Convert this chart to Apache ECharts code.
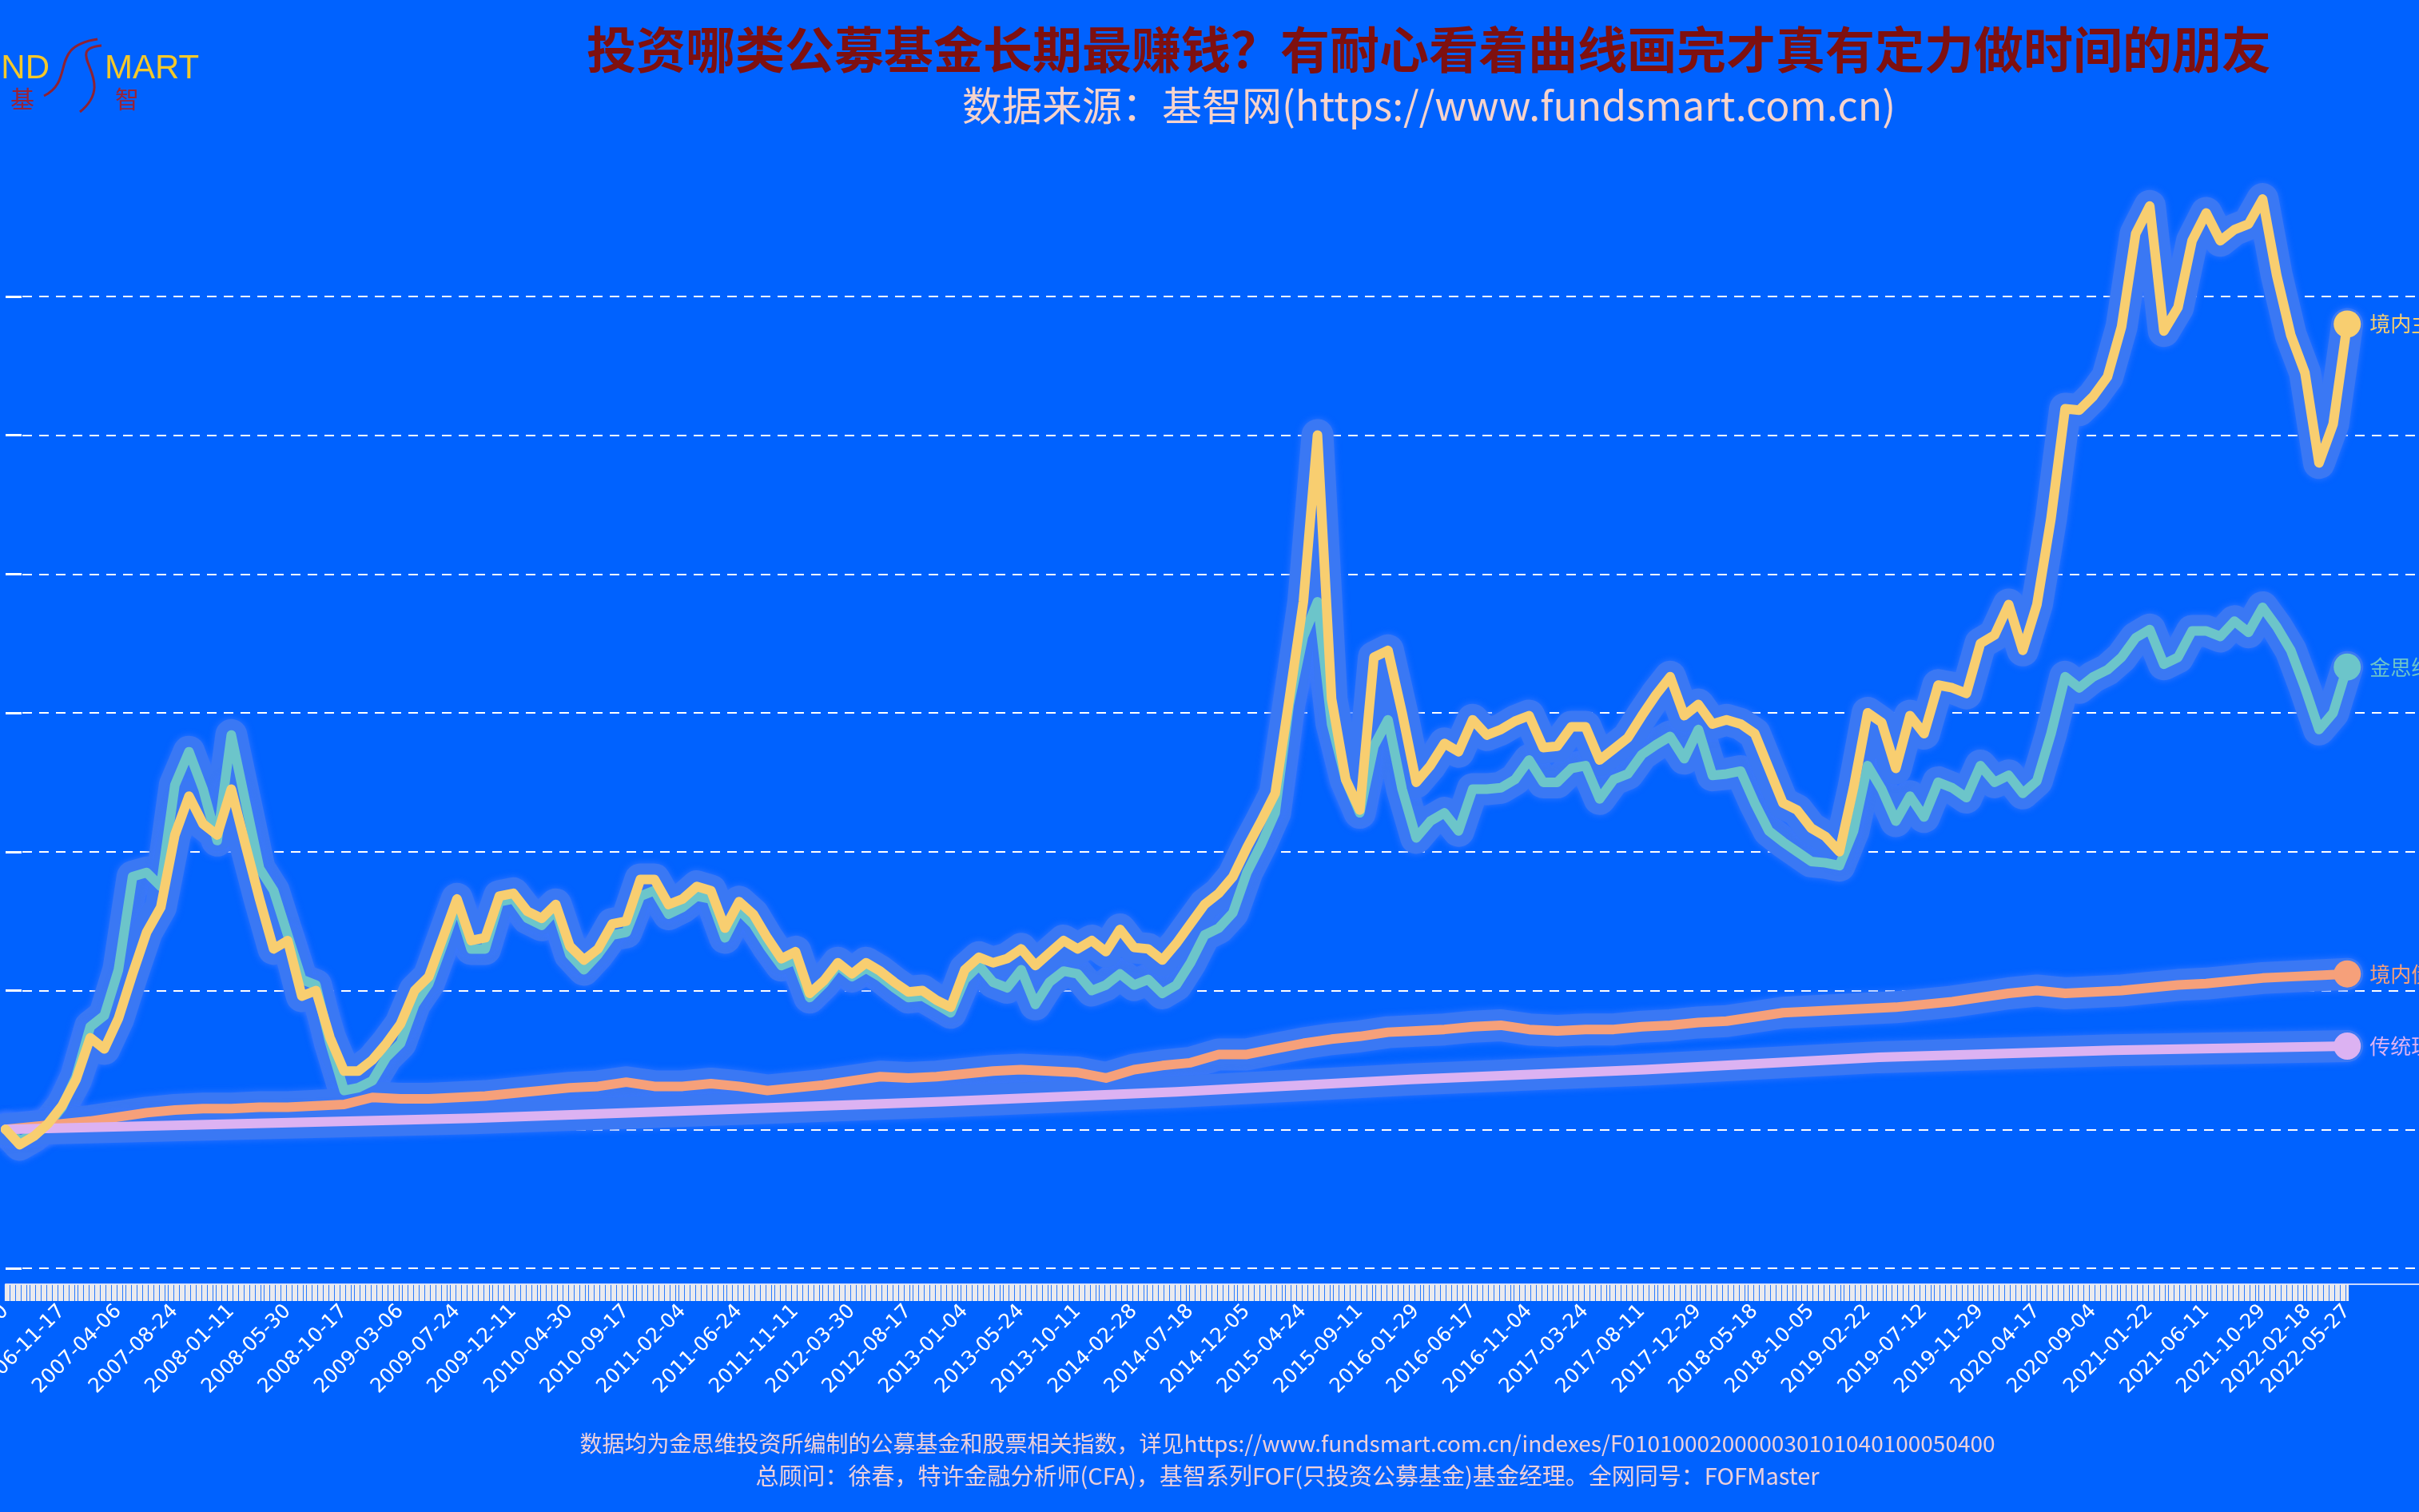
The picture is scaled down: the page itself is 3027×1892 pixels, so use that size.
<!DOCTYPE html>
<html>
<head>
<meta charset="utf-8">
<script src="https://cdn.jsdelivr.net/npm/echarts@6/dist/echarts.min.js"></script>
<style>
  html, body { margin: 0; padding: 0; background: #0062ff; }
  #chart { width: 3027px; height: 1892px; }
</style>
</head>
<body>
<div id="chart"></div>
<script>
// ---------- DATA ----------
const startDate = '2006-06-30';   // first weekly observation (Friday)
const weekCount = 831;            // weekly observations up to 2022-05-27

const xLabels = ['2006-06-30','2006-11-17','2007-04-06','2007-08-24','2008-01-11','2008-05-30','2008-10-17',
  '2009-03-06','2009-07-24','2009-12-11','2010-04-30','2010-09-17','2011-02-04','2011-06-24','2011-11-11',
  '2012-03-30','2012-08-17','2013-01-04','2013-05-24','2013-10-11','2014-02-28','2014-07-18','2014-12-05',
  '2015-04-24','2015-09-11','2016-01-29','2016-06-17','2016-11-04','2017-03-24','2017-08-11','2017-12-29',
  '2018-05-18','2018-10-05','2019-02-22','2019-07-12','2019-11-29','2020-04-17','2020-09-04','2021-01-22',
  '2021-06-11','2021-10-29','2022-02-18','2022-05-27'];

const yTicks = [0, 1, 2, 3, 4, 5, 6, 7];

const seriesNames = ['境内主动股票基金指数', '金思维全A股票指数', '境内债券基金指数', '传统理财收益指数'];

// yellow: one value every 5 weeks
const stepYellow = 5;
const yellowVals = [
1.00,0.89,0.95,1.04,1.17,1.36,1.66,1.58,1.80,2.12,
2.42,2.60,3.12,3.40,3.20,3.12,3.45,3.05,2.66,2.30,
2.36,1.96,2.00,1.66,1.42,1.42,1.50,1.62,1.76,2.00,
2.10,2.38,2.66,2.36,2.38,2.68,2.70,2.57,2.52,2.62,
2.32,2.22,2.30,2.48,2.50,2.80,2.80,2.62,2.66,2.75,
2.72,2.45,2.64,2.55,2.38,2.23,2.28,1.98,2.07,2.20,
2.12,2.20,2.14,2.06,1.99,2.00,1.93,1.88,2.15,2.24,
2.20,2.23,2.30,2.18,2.27,2.36,2.30,2.36,2.28,2.44,
2.31,2.30,2.22,2.34,2.48,2.62,2.70,2.82,3.03,3.22,
3.42,4.10,4.80,6.00,4.10,3.52,3.30,4.40,4.45,4.00,
3.50,3.62,3.78,3.72,3.95,3.84,3.88,3.94,3.98,3.75,
3.76,3.90,3.90,3.66,3.74,3.82,3.98,4.13,4.26,3.98,
4.06,3.92,3.95,3.92,3.85,3.60,3.35,3.30,3.17,3.11,
3.00,3.46,4.00,3.93,3.60,3.98,3.85,4.20,4.18,4.14,
4.50,4.56,4.78,4.45,4.78,5.40,6.19,6.18,6.28,6.42,
6.78,7.45,7.65,6.75,6.92,7.40,7.60,7.40,7.48,7.52,
7.70,7.15,6.72,6.45,5.80,6.08,6.80];

// teal: one value every 5 weeks
const stepTeal = 5;
const tealVals = [
1.00,0.92,0.96,1.03,1.16,1.38,1.74,1.82,2.15,2.82,
2.85,2.75,3.48,3.72,3.45,3.08,3.84,3.36,2.88,2.72,
2.40,2.08,2.04,1.62,1.28,1.30,1.35,1.52,1.62,1.90,
2.05,2.33,2.62,2.30,2.30,2.64,2.66,2.52,2.47,2.58,
2.26,2.15,2.26,2.40,2.42,2.68,2.72,2.55,2.60,2.68,
2.66,2.38,2.58,2.48,2.32,2.18,2.22,1.95,2.05,2.18,
2.10,2.16,2.10,2.02,1.95,1.96,1.90,1.84,2.08,2.18,
2.06,2.02,2.15,1.90,2.06,2.14,2.12,2.00,2.04,2.12,
2.04,2.08,1.98,2.04,2.20,2.40,2.45,2.56,2.85,3.05,
3.28,4.06,4.55,4.80,3.92,3.52,3.28,3.76,3.95,3.45,
3.10,3.22,3.28,3.15,3.45,3.45,3.46,3.52,3.66,3.50,
3.50,3.60,3.62,3.38,3.52,3.56,3.70,3.77,3.83,3.67,
3.88,3.55,3.56,3.58,3.35,3.15,3.07,3.00,2.93,2.92,
2.90,3.15,3.62,3.45,3.22,3.40,3.25,3.50,3.46,3.39,
3.62,3.50,3.55,3.42,3.51,3.85,4.26,4.18,4.26,4.31,
4.40,4.54,4.60,4.35,4.40,4.59,4.59,4.55,4.66,4.58,
4.76,4.62,4.45,4.18,3.88,4.00,4.33];

// orange: one value every 10 weeks
const stepOrange = 10;
const orangeVals = [
1.00,1.02,1.04,1.06,1.09,1.12,1.14,1.15,1.15,1.16,
1.16,1.17,1.18,1.23,1.22,1.22,1.23,1.24,1.26,1.28,
1.30,1.31,1.34,1.31,1.31,1.33,1.31,1.28,1.30,1.32,
1.35,1.38,1.37,1.38,1.40,1.42,1.43,1.42,1.41,1.37,
1.43,1.46,1.48,1.54,1.54,1.58,1.62,1.65,1.67,1.70,
1.71,1.72,1.74,1.75,1.72,1.71,1.72,1.72,1.74,1.75,
1.77,1.78,1.81,1.84,1.85,1.86,1.87,1.88,1.90,1.92,
1.95,1.98,2.00,1.98,1.99,2.00,2.02,2.04,2.05,2.07,
2.09,2.10,2.11,2.12];

// lilac: one value every 83 weeks
const stepLilac = 83;
const lilacVals = [1.00,1.04,1.08,1.14,1.20,1.27,1.36,1.43,1.52,1.57,1.60];

// ---------- BUILD ----------
const weekDates = [];
(function () {
  const p = startDate.split('-').map(Number);
  let t = Date.UTC(p[0], p[1] - 1, p[2]);
  for (let i = 0; i < weekCount; i++) {
    const d = new Date(t);
    weekDates.push(d.getUTCFullYear() + '-' + String(d.getUTCMonth() + 1).padStart(2, '0') + '-' + String(d.getUTCDate()).padStart(2, '0'));
    t += 7 * 86400000;
  }
})();
const labelSet = new Set(xLabels);
const lastIdx = weekCount - 1;

const colors = ['#f8ce70', '#6cc5ca', '#f6a07a', '#dcb2f2'];
const glowColor = '#3a78f4';

function pts(vals, step) {
  return vals.map((v, k) => [k * step, v]);
}

function makeSeries(name, vals, step, color, z) {
  const raw = pts(vals, step);
  const glow = {
    type: 'line', data: raw, symbol: 'none', silent: true, z: 1,
    lineStyle: { color: glowColor, width: 40, cap: 'round', join: 'round', shadowBlur: 8, shadowColor: 'rgba(60,120,255,0.9)' },
    emphasis: { disabled: true }, animation: false
  };
  const main = {
    name: name, type: 'line', z: z, silent: true, animation: false,
    showSymbol: true, symbol: 'none',
    data: raw.map((p, i) => i === raw.length - 1 ? { value: p, symbol: 'circle', symbolSize: 34 } : p),
    lineStyle: { color: color, width: 12, cap: 'round', join: 'round' },
    itemStyle: { color: color },
    endLabel: { show: true, formatter: '{a}', color: color, fontSize: 26, fontFamily: 'Noto Sans CJK SC', distance: 28 },
    emphasis: { disabled: true }
  };
  return [glow, main];
}

const series = [].concat(
  makeSeries(seriesNames[1], tealVals, stepTeal, colors[1], 3),
  makeSeries(seriesNames[0], yellowVals, stepYellow, colors[0], 4),
  makeSeries(seriesNames[2], orangeVals, stepOrange, colors[2], 3),
  makeSeries(seriesNames[3], lilacVals, stepLilac, colors[3], 3)
);

const chart = echarts.init(document.getElementById('chart'), null, { renderer: 'canvas' });
chart.setOption({
  backgroundColor: '#0062ff',
  animation: false,
  grid: { left: 7, right: -2, top: 197, bottom: 305, containLabel: false, outerBoundsMode: 'none' },
  xAxis: {
    type: 'category', data: weekDates, boundaryGap: false, max: 856, offset: 20,
    axisLine: { show: true, onZero: false, lineStyle: { color: '#c9d8ff', width: 2 } },
    axisTick: { show: true, length: 21, interval: (i) => i <= lastIdx, lineStyle: { color: '#eaeaee', width: 3.2 } },
    axisLabel: {
      interval: (i, v) => i <= lastIdx && labelSet.has(v),
      rotate: 45, color: '#ffffff', fontSize: 25, fontFamily: 'DejaVu Sans', margin: 30, hideOverlap: false
    },
    splitLine: { show: false }
  },
  yAxis: {
    type: 'value', min: 0, max: 8, interval: 1,
    axisLine: { show: false },
    axisLabel: { show: false },
    axisTick: { show: true, inside: true, length: 20, customValues: yTicks, lineStyle: { color: '#ffffff', width: 3 } },
    splitLine: { show: true, lineStyle: { color: '#ffffff', width: 2, type: [12, 9] } }
  },
  graphic: [
    // logo
    { type: 'text', x: 62, y: 86, style: { text: 'FUND', fill: '#f4c82a', font: '42px "Liberation Sans"', textAlign: 'right', textVerticalAlign: 'middle' } },
    { type: 'text', x: 131, y: 86, style: { text: 'MART', fill: '#f4c82a', font: '42px "Liberation Sans"', textAlign: 'left', textVerticalAlign: 'middle' } },
    { type: 'bezierCurve', shape: { x1: 122, y1: 49, cpx1: 60, cpy1: 58, cpx2: 95, cpy2: 100, x2: 55, y2: 120 }, style: { stroke: '#8e2233', lineWidth: 3, fill: null } },
    { type: 'bezierCurve', shape: { x1: 127, y1: 57, cpx1: 75, cpy1: 62, cpx2: 150, cpy2: 100, x2: 100, y2: 140 }, style: { stroke: '#8e2233', lineWidth: 3, fill: null } },
    { type: 'text', x: 28, y: 124, style: { text: '基', fill: '#9a2236', font: '30px "Noto Sans CJK SC"', textAlign: 'center', textVerticalAlign: 'middle' } },
    { type: 'text', x: 159, y: 124, style: { text: '智', fill: '#9a2236', font: '30px "Noto Sans CJK SC"', textAlign: 'center', textVerticalAlign: 'middle' } },
    // titles
    { type: 'text', x: 1788, y: 62, style: { text: '投资哪类公募基金长期最赚钱？有耐心看着曲线画完才真有定力做时间的朋友', fill: '#7e1010', font: 'bold 62px "Noto Sans CJK SC"', textAlign: 'center', textVerticalAlign: 'middle' } },
    { type: 'text', x: 1788, y: 132, style: { text: '数据来源：基智网(https://www.fundsmart.com.cn)', fill: '#f6d3cc', font: '50px "Noto Sans CJK SC"', textAlign: 'center', textVerticalAlign: 'middle' } },
    // footer
    { type: 'text', x: 1611, y: 1806, style: { text: '数据均为金思维投资所编制的公募基金和股票相关指数，详见https://www.fundsmart.com.cn/indexes/F010100020000030101040100050400', fill: '#ecd0dc', font: '28px "Noto Sans CJK SC"', textAlign: 'center', textVerticalAlign: 'middle' } },
    { type: 'text', x: 1611, y: 1847, style: { text: '总顾问：徐春，特许金融分析师(CFA)，基智系列FOF(只投资公募基金)基金经理。全网同号：FOFMaster', fill: '#ecd0dc', font: '29px "Noto Sans CJK SC"', textAlign: 'center', textVerticalAlign: 'middle' } }
  ],
  series: series
});
</script>
</body>
</html>
